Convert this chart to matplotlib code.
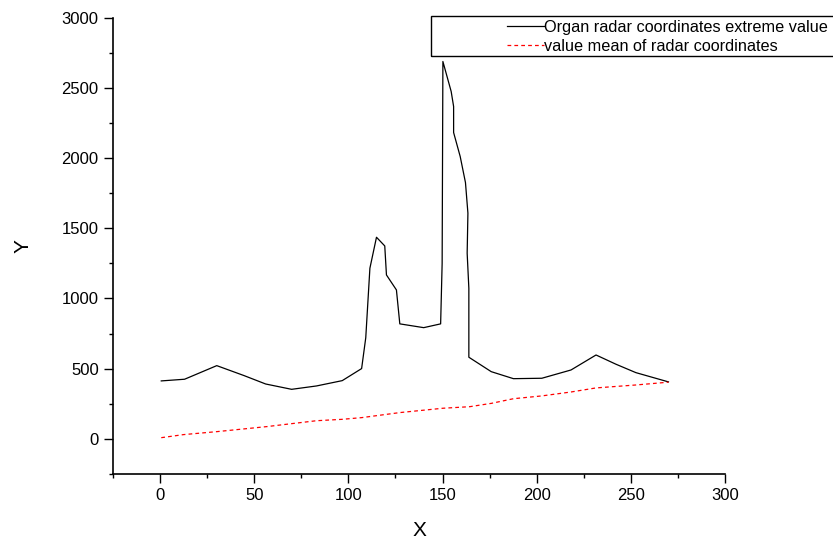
import numpy as np
import matplotlib
matplotlib.use("Agg")
import matplotlib.pyplot as plt
from matplotlib.patches import Rectangle
from matplotlib.ticker import MultipleLocator

plt.rcParams.update({
    "font.family": ["Liberation Sans", "DejaVu Sans"],
    "font.size": 12,
})

# organ radar coordinates, extreme value
x_ext = [0.5, 12.9, 30.0, 44.5, 56.0, 69.8, 83.0, 96.7, 107.0, 109.2, 111.4, 114.9,
         119.3, 120.2, 125.5, 127.3, 140.0, 149.0, 149.8, 150.2, 154.6, 155.9, 155.9,
         159.4, 162.2, 163.5, 163.1, 164.0, 164.0, 175.9, 187.7, 202.8, 218.3, 231.6,
         242.2, 252.8, 270.1]
y_ext = [412, 424, 521, 450, 390, 352, 376, 414, 500, 720, 1216, 1437,
         1375, 1168, 1061, 819, 792, 819, 1250, 2691, 2477, 2370, 2184,
         2013, 1827, 1609, 1323, 1073, 581, 478, 428, 431, 490, 597,
         531, 471, 405]

# mean value of radar coordinates
x_mean = [0.5, 12.4, 30.0, 56.6, 69.8, 83.0, 96.7, 107.0, 127.3, 150.2, 164.4,
          176.0, 187.7, 202.8, 218.3, 231.6, 252.8, 270.1]
y_mean = [7, 29, 50, 86, 107, 128, 138, 150, 186, 217, 228,
          252, 285, 305, 333, 362, 383, 403]

labels = ["Organ radar coordinates extreme value", "value mean of radar coordinates"]

fig = plt.figure(figsize=(8.33, 5.41), dpi=100)
ax = fig.add_axes([0.136, 0.1244, 0.734, 0.842])

ax.plot(x_ext, y_ext, color="black", linewidth=0.9, label=labels[0])
ax.plot(x_mean, y_mean, color="red", linewidth=0.9, dashes=(3, 2.5), label=labels[1])

ax.set_xlim(-25, 300)
ax.set_ylim(-250, 3000)
ax.xaxis.set_major_locator(MultipleLocator(50))
ax.xaxis.set_minor_locator(MultipleLocator(25))
ax.yaxis.set_major_locator(MultipleLocator(500))
ax.yaxis.set_minor_locator(MultipleLocator(250))

for s in ["top", "right"]:
    ax.spines[s].set_visible(False)
for s in ["left", "bottom"]:
    ax.spines[s].set_linewidth(1.2)

ax.tick_params(which="major", direction="out", length=6.5, width=1, pad=4, labelsize=12)
ax.tick_params(which="minor", direction="out", length=3, width=1)

ax.set_xlabel("X", fontsize=15, labelpad=13)
ax.set_ylabel("Y", fontsize=15, labelpad=21)

# legend frame (runs off the right edge like the original)
fig.patches.append(Rectangle((430.7 / 833, 1 - 55.7 / 541), 0.6, 39.7 / 541,
                             transform=fig.transFigure, fill=False,
                             edgecolor="black", linewidth=1, clip_on=False))
fig.legend(loc="upper left", bbox_to_anchor=(507 / 833, 1 - 20 / 541),
           frameon=False, borderpad=0, borderaxespad=0, handlelength=2.25,
           handletextpad=0.05, labelspacing=0.22, fontsize=11.7)

fig.savefig("out.png", dpi=100)
